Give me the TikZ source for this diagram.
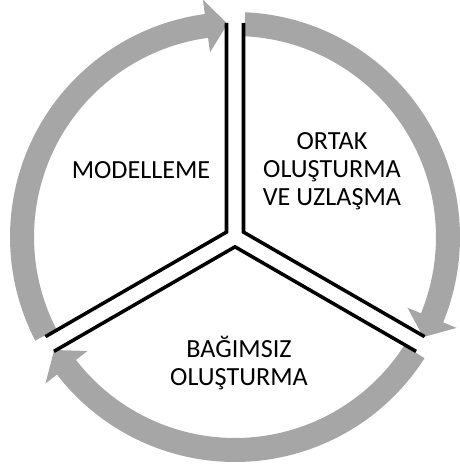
\documentclass[tikz,border=0pt]{standalone}
\usepackage{fontspec}
\setmainfont{Carlito}
\definecolor{ringgray}{RGB}{166,166,166}

\begin{document}
\begin{tikzpicture}[line width=2.5pt,
  phasetext/.style={align=center, inner sep=0pt, font=\fontsize{18.6}{20}\selectfont}]
  \useasboundingbox (-5.875,-5.875) rectangle (5.6,5.925);
  % ring of three arrows
  \foreach \turn in {0,120,240}
    \fill[ringgray, rotate=\turn] (87.4:5.625) arc[start angle=87.4, end angle=-22.3, radius=5.625]
      -- (-22.3:5.99) -- (-28:5.33) -- (-22.3:4.66) -- (-22.3:5.025)
      arc[start angle=-22.3, end angle=87.4, radius=5.025] -- cycle;
  % borders of the three parts
  \foreach \turn in {0,120,240}
    \draw[rotate=\turn] (0.2125,5.35) -- (0.2125,0.1227) -- ([shift={(60:0.2125)}]-30:5.35);
  \path node (model) at (-2.35,1.675) [phasetext] {MODELLEME}
        node (ortak) at (2.425,1.65) [phasetext] {ORTAK\\OLUŞTURMA\\VE UZLAŞMA}
        node (bagim) at (0.1,-3.15) [phasetext] {BAĞIMSIZ\\OLUŞTURMA};
\end{tikzpicture}
\end{document}
